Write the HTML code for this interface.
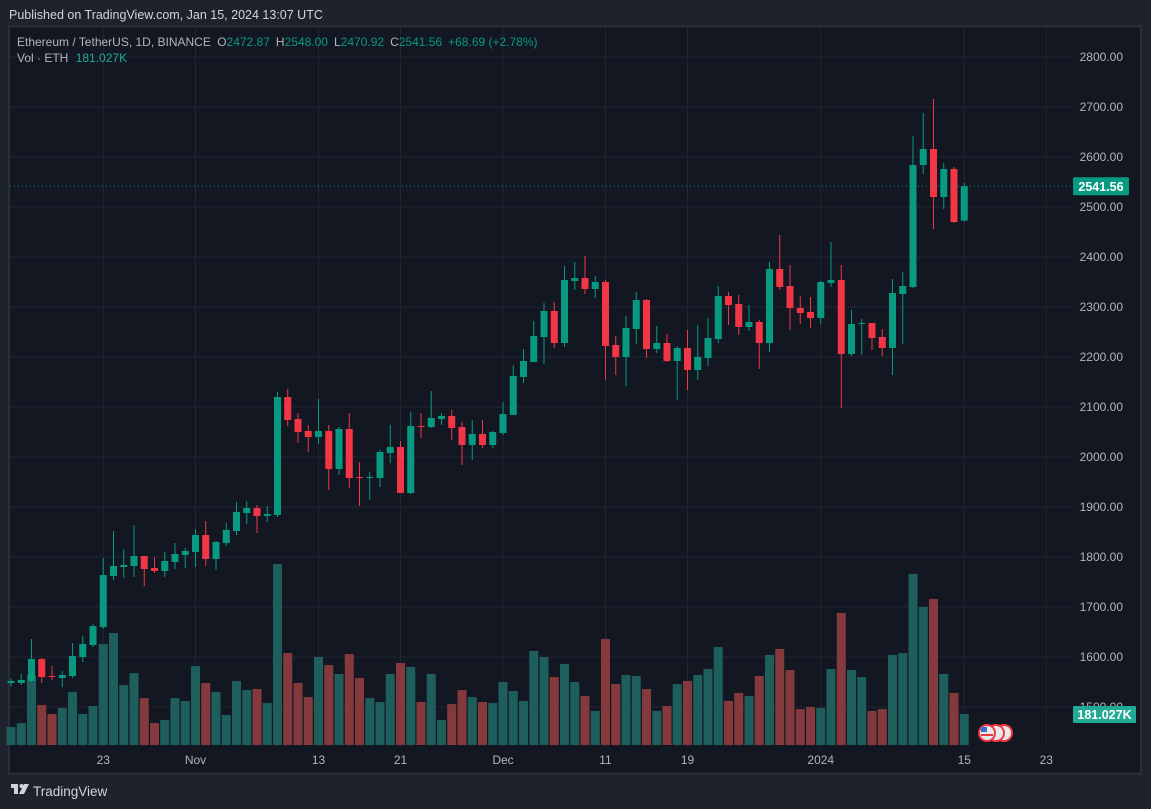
<!DOCTYPE html>
<html><head><meta charset="utf-8">
<style>
html,body{margin:0;padding:0;background:#1e222d;}
svg{display:block;font-family:"Liberation Sans",sans-serif;}
</style></head>
<body>
<svg id="chart" width="1151" height="809" viewBox="0 0 1151 809" xmlns="http://www.w3.org/2000/svg">
<rect x="0" y="0" width="1151" height="809" fill="#1e222d"/>
<text x="9" y="19" font-size="12.5" fill="#d1d4dc">Published on TradingView.com, Jan 15, 2024 13:07 UTC</text>
<rect x="9" y="26.5" width="1132" height="747" fill="#131722" stroke="#2a2e39" stroke-width="2"/>
<g id="grid"></g>
<g id="vol"></g>
<g id="candles"></g>
<g id="axes"></g>
<text x="17" y="46" font-size="12" fill="#b2b5be">Ethereum / TetherUS, 1D, BINANCE <tspan dx="3">O</tspan><tspan fill="#089981">2472.87</tspan><tspan dx="6">H</tspan><tspan fill="#089981">2548.00</tspan><tspan dx="6">L</tspan><tspan fill="#089981">2470.92</tspan><tspan dx="6">C</tspan><tspan fill="#089981">2541.56</tspan><tspan dx="6" fill="#089981">+68.69 (+2.78%)</tspan></text>
<text x="17" y="62" font-size="12" fill="#b2b5be">Vol · ETH <tspan dx="4" fill="#22ab94">181.027K</tspan></text>
<g>
<circle cx="1004" cy="733" r="8" fill="#e8e8e8" stroke="#f23645" stroke-width="2"/>
<circle cx="996" cy="733" r="8" fill="#e8e8e8" stroke="#f23645" stroke-width="2"/>
<circle cx="987" cy="733" r="8" fill="#e8e8e8" stroke="#f23645" stroke-width="2"/>
<rect x="981" y="727" width="6" height="5" fill="#3b6fd8"/>
<rect x="981" y="734" width="12" height="2" fill="#f23645"/>
</g>
<g>
<rect x="11" y="784" width="7" height="4" fill="#d1d4dc"/><rect x="14" y="784" width="4" height="10" fill="#d1d4dc"/>
<circle cx="21.5" cy="786" r="2" fill="#d1d4dc"/><polygon points="24,784 29,784 24,794 19,794" fill="#d1d4dc"/>
<text x="33" y="796" font-size="13.5" fill="#d1d4dc">TradingView</text>
</g>
<script>
const dates=["Oct 14"]; // first candle date
const opens=[1548,1548,1552,1596,1562,1558,1562,1600,1624,1660,1762,1780,1782,1802,1778,1772,1790,1804,1810,1844,1796,1828,1852,1888,1898,1882,1884,2120,2076,2052,2040,2052,1976,2056,1960,1958,1958,2008,2020,1928,2062,2060,2076,2082,2060,2024,2046,2024,2048,2084,2160,2190,2240,2292,2228,2352,2358,2336,2350,2224,2200,2256,2314,2216,2228,2192,2218,2174,2198,2236,2322,2306,2260,2270,2228,2376,2342,2298,2290,2278,2348,2354,2206,2266,2268,2240,2218,2326,2340,2584,2616,2520,2576,2472.87];
const highs=[1557,1566,1636,1598,1582,1572,1628,1642,1666,1798,1852,1816,1864,1802,1800,1810,1828,1818,1856,1872,1832,1868,1910,1912,1904,1902,2130,2136,2088,2064,2116,2064,2060,2088,1990,1970,2014,2064,2032,2090,2088,2132,2088,2094,2070,2074,2074,2052,2110,2184,2216,2272,2308,2310,2382,2390,2402,2362,2354,2242,2282,2330,2316,2262,2246,2222,2254,2264,2278,2342,2330,2324,2304,2274,2390,2444,2384,2322,2320,2352,2430,2384,2294,2276,2268,2256,2356,2370,2642,2688,2716,2588,2580,2548];
const lows=[1541,1544,1550,1548,1554,1540,1558,1590,1620,1656,1754,1758,1760,1742,1768,1760,1776,1778,1780,1782,1774,1822,1844,1866,1848,1870,1880,2062,2028,2010,2026,1934,1964,1938,1902,1914,1940,1988,1928,1926,2038,2058,2064,2034,1984,1994,2018,2018,2044,2084,2148,2190,2186,2218,2220,2334,2326,2318,2154,2164,2142,2226,2198,2208,2190,2114,2134,2154,2182,2228,2264,2244,2252,2176,2210,2334,2254,2266,2258,2266,2340,2098,2202,2204,2214,2202,2164,2226,2338,2566,2456,2496,2468,2470.92];
const closes=[1552,1554,1596,1560,1560,1564,1602,1626,1662,1764,1782,1784,1802,1776,1772,1792,1806,1812,1844,1796,1830,1854,1890,1898,1882,1886,2120,2074,2050,2040,2052,1976,2056,1958,1958,1960,2010,2020,1928,2062,2060,2078,2082,2058,2024,2046,2024,2050,2086,2162,2192,2242,2292,2228,2354,2358,2336,2350,2222,2200,2258,2314,2216,2228,2192,2218,2174,2200,2238,2322,2304,2260,2270,2228,2376,2340,2298,2288,2278,2350,2354,2206,2266,2268,2238,2218,2328,2342,2584,2616,2520,2576,2470,2541.56];
const volumes=[105,128,409,234,181,216,310,181,228,590,654,350,420,274,128,146,274,257,461,362,310,175,374,321,327,245,1057,537,362,280,514,467,415,531,391,274,251,415,479,456,251,415,146,239,321,280,251,245,368,315,257,549,514,397,473,368,286,199,619,356,409,403,327,199,228,356,374,409,444,572,257,304,286,403,526,561,438,210,222,216,444,771,438,397,199,210,526,537,999,806,853,415,304,181.027];
const priceTicks=[2800,2700,2600,2500,2400,2300,2200,2100,2000,1900,1800,1700,1600,1500];
const timeLabels=["23","Nov","13","21","Dec","11","19","2024","15","23"];
const timeIndex=[9,18,30,38,48,58,66,79,93,101];

const NS="http://www.w3.org/2000/svg";
const xOf=i=>11+i*10.25;
const yOf=p=>57+(2800-p)*0.5;
const vY=v=>745-v*0.1712;
function mk(parent,tag,attrs){const e=document.createElementNS(NS,tag);for(const k in attrs)e.setAttribute(k,attrs[k]);document.getElementById(parent).appendChild(e);return e;}
// grid
priceTicks.forEach(p=>{const l=mk('grid','line',{x1:10,x2:1072,y1:yOf(p),y2:yOf(p),stroke:'#222631','stroke-width':1});

});
timeIndex.forEach(i=>{const l=mk('grid','line',{x1:xOf(i),x2:xOf(i),y1:27,y2:747,stroke:'#222631','stroke-width':1});

});
// volume
volumes.forEach((v,i)=>{const up=closes[i]>=opens[i];const r=mk('vol','rect',{x:xOf(i)-4.5,y:vY(v),width:9,height:745-vY(v),fill:up?'#1e5f5e':'#843a3d'});

});
// candles
opens.forEach((o,i)=>{const c=closes[i],up=c>=o,col=up?'#089981':'#f23645',x=xOf(i);
const w=mk('candles','line',{x1:x,x2:x,y1:yOf(highs[i]),y2:yOf(lows[i]),stroke:col,'stroke-width':1});


const top=yOf(Math.max(o,c)),h=Math.max(1,yOf(Math.min(o,c))-top);
const b=mk('candles','rect',{x:x-3.5,y:top,width:7,height:h,fill:col});

});
// price axis
priceTicks.forEach(p=>{if(p===1500)return;const t=mk('axes','text',{x:1123,y:yOf(p)+4,'font-size':12,fill:'#b2b5be','text-anchor':'end'});t.textContent=p.toFixed(2);

});
const t15=mk('axes','text',{x:1123,y:yOf(1500)+4,'font-size':12,fill:'#b2b5be','text-anchor':'end'});t15.textContent='1500.00';


timeIndex.forEach((i,k)=>{const t=mk('axes','text',{x:xOf(i),y:764,'font-size':12,fill:'#b2b5be','text-anchor':'middle'});t.textContent=timeLabels[k];

});
// last price line and labels
const last=closes[closes.length-1];
const dl=mk('axes','line',{x1:10,x2:1072,y1:yOf(last),y2:yOf(last),stroke:'#089981','stroke-width':1,'stroke-dasharray':'1 3'});


const pb=mk('axes','rect',{x:1073,y:yOf(last)-9,width:56,height:18,fill:'#089981',rx:1});


const pt=mk('axes','text',{x:1101,y:yOf(last)+5,'font-size':12.5,'font-weight':'bold',fill:'#ffffff','text-anchor':'middle'});pt.textContent=last.toFixed(2);


const lv=volumes[volumes.length-1];
const vb=mk('axes','rect',{x:1073,y:vY(lv)-8,width:63,height:17,fill:'#22ab94',rx:1});


const vt=mk('axes','text',{x:1104.5,y:vY(lv)+5,'font-size':12.5,'font-weight':'bold',fill:'#ffffff','text-anchor':'middle'});vt.textContent=lv.toFixed(3)+'K';


</script>
</svg>
</body></html>
